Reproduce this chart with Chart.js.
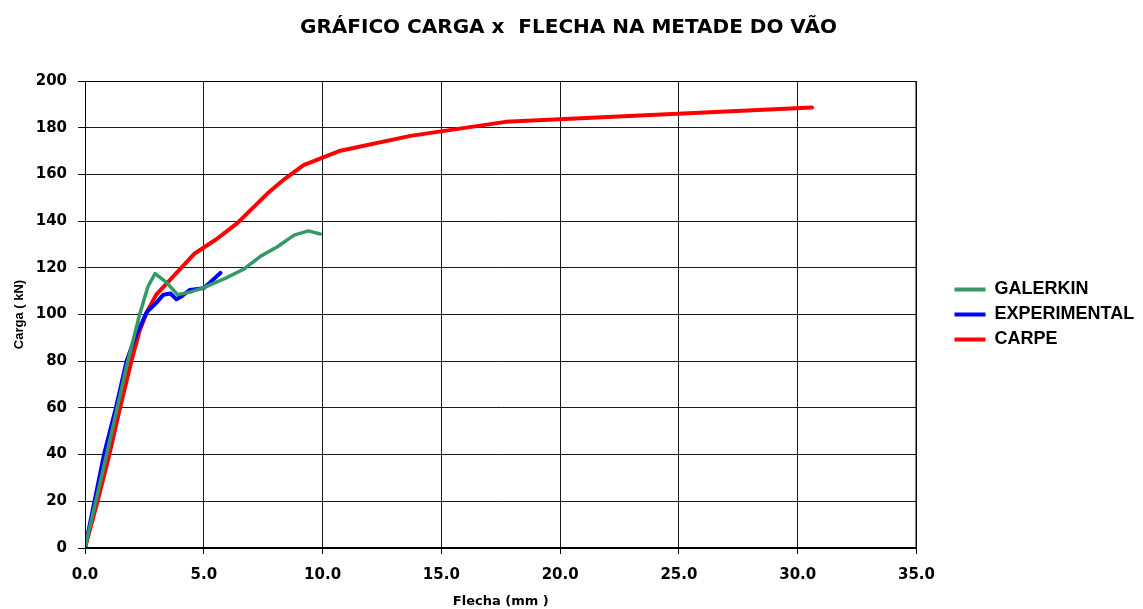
<!DOCTYPE html>
<html>
<head>
<meta charset="utf-8">
<script src="https://cdn.jsdelivr.net/npm/chart.js@4.4.1/dist/chart.umd.min.js"></script>
<style>
  html, body { margin: 0; padding: 0; background: #fff; }
  #wrap { width: 1143px; height: 609px; }
</style>
</head>
<body>
<div id="wrap"><canvas id="chart"></canvas></div>
<script>
// Flecha (mm) / Carga (kN)
const galerkinX = [0, 1.0, 1.8, 2.3, 2.65, 2.95, 3.4, 3.9, 4.4, 5.0, 5.9, 6.7, 7.4, 8.1, 8.8, 9.4, 9.9];
const galerkinY = [0, 44, 80, 100, 112, 117.5, 114, 108.5, 109.5, 111.5, 115.5, 119.5, 125, 129, 134, 135.8, 134.5];

const experimentalX = [0, 0.4, 0.8, 1.3, 1.75, 2.1, 2.6, 3.0, 3.3, 3.6, 3.85, 4.1, 4.4, 5.0, 5.7];
const experimentalY = [0, 20, 40, 60, 80, 90, 101, 105, 108.5, 109, 106.5, 108, 110.5, 111.3, 117.8];

const carpeX = [0, 0.5, 1.0, 1.45, 1.95, 2.3, 2.6, 3.0, 3.6, 4.6, 5.5, 6.4, 7.0, 7.7, 8.4, 9.2, 10.7, 13.7, 17.7, 30.6];
const carpeY = [0, 19, 39, 59, 80, 93, 101, 108.5, 115, 126, 132, 139, 145, 152, 158, 164, 170, 176.5, 182.5, 188.7];

const seriesNames = ['GALERKIN', 'EXPERIMENTAL', 'CARPE'];
const seriesColors = ['#339966', '#0000ff', '#ff0000'];

function toPoints(xs, ys) {
  return xs.map((x, i) => ({ x: x, y: ys[i] }));
}

const wide = 'DejaVu Sans, Verdana, sans-serif';
const narrow = 'Liberation Sans, Arial, sans-serif';
Chart.defaults.font.family = wide;
Chart.defaults.color = '#000';

const ctx = document.getElementById('chart');
const myChart = new Chart(ctx, {
  type: 'line',
  data: {
    datasets: [
      { label: seriesNames[0], data: toPoints(galerkinX, galerkinY), borderColor: seriesColors[0], backgroundColor: seriesColors[0], borderWidth: 3.5 },
      { label: seriesNames[1], data: toPoints(experimentalX, experimentalY), borderColor: seriesColors[1], backgroundColor: seriesColors[1], borderWidth: 4 },
      { label: seriesNames[2], data: toPoints(carpeX, carpeY), borderColor: seriesColors[2], backgroundColor: seriesColors[2], borderWidth: 4 }
    ]
  },
  options: {
    responsive: true,
    maintainAspectRatio: false,
    animation: false,
    layout: { padding: { top: 0, left: 0, right: 6, bottom: 0 } },
    elements: {
      point: { radius: 0 },
      line: { tension: 0, borderCapStyle: 'round', borderJoinStyle: 'round' }
    },
    plugins: {
      title: {
        display: true,
        text: 'GRÁFICO CARGA x  FLECHA NA METADE DO VÃO',
        font: { size: 20, weight: 'bold' },
        color: '#000',
        padding: { top: 16, bottom: 41 }
      },
      legend: {
        position: 'right',
        fullSize: false,
        labels: {
          font: { family: narrow, size: 18, weight: 'bold' },
          color: '#000',
          boxWidth: 31,
          boxHeight: 4,
          padding: 7,
          generateLabels: function(chart) {
            const items = Chart.defaults.plugins.legend.labels.generateLabels(chart);
            items.forEach(it => { it.lineWidth = 0; });
            return items;
          }
        }
      },
      tooltip: { enabled: false }
    },
    scales: {
      x: {
        type: 'linear',
        min: 0,
        max: 35,
        afterFit: function(scale) { scale.height = 61; },
        ticks: {
          stepSize: 5,
          padding: 12,
          font: { size: 15, weight: 'bold' },
          color: '#000',
          callback: v => v.toFixed(1)
        },
        grid: { color: '#1a1a1a', lineWidth: 1, tickLength: 6, tickColor: '#000' },
        border: { color: '#000', width: 1 },
        title: {
          display: true,
          text: 'Flecha (mm )',
          font: { size: 13, weight: 'bold' },
          color: '#000',
          padding: { top: 2, bottom: 0 }
        }
      },
      y: {
        min: 0,
        max: 200,
        afterFit: function(scale) { scale.width = 85; },
        ticks: {
          stepSize: 20,
          padding: 11,
          font: { size: 15, weight: 'bold' },
          color: '#000'
        },
        grid: { color: '#1a1a1a', lineWidth: 1, tickLength: 7, tickColor: '#000' },
        border: { color: '#000', width: 1 },
        title: {
          display: true,
          text: 'Carga ( kN)',
          font: { family: narrow, size: 13, weight: 'bold' },
          color: '#000',
          padding: { top: 12, bottom: 0 }
        }
      },
      // empty right-hand axis: only keeps the gap between plot and legend
      gap: {
        type: 'linear',
        position: 'right',
        display: true,
        afterFit: function(scale) { scale.width = 31; },
        ticks: { display: false },
        grid: { display: false },
        border: { display: false }
      }
    }
  },
  plugins: [{
    id: 'frame',
    afterDraw(chart) {
      const a = chart.chartArea;
      const c = chart.ctx;
      c.save();
      c.strokeStyle = '#000';
      c.lineWidth = 1;
      c.strokeRect(a.left + 0.5, a.top + 0.5, a.right - a.left - 1, a.bottom - a.top - 1);
      c.restore();
    }
  }]
});
</script>
</body>
</html>
